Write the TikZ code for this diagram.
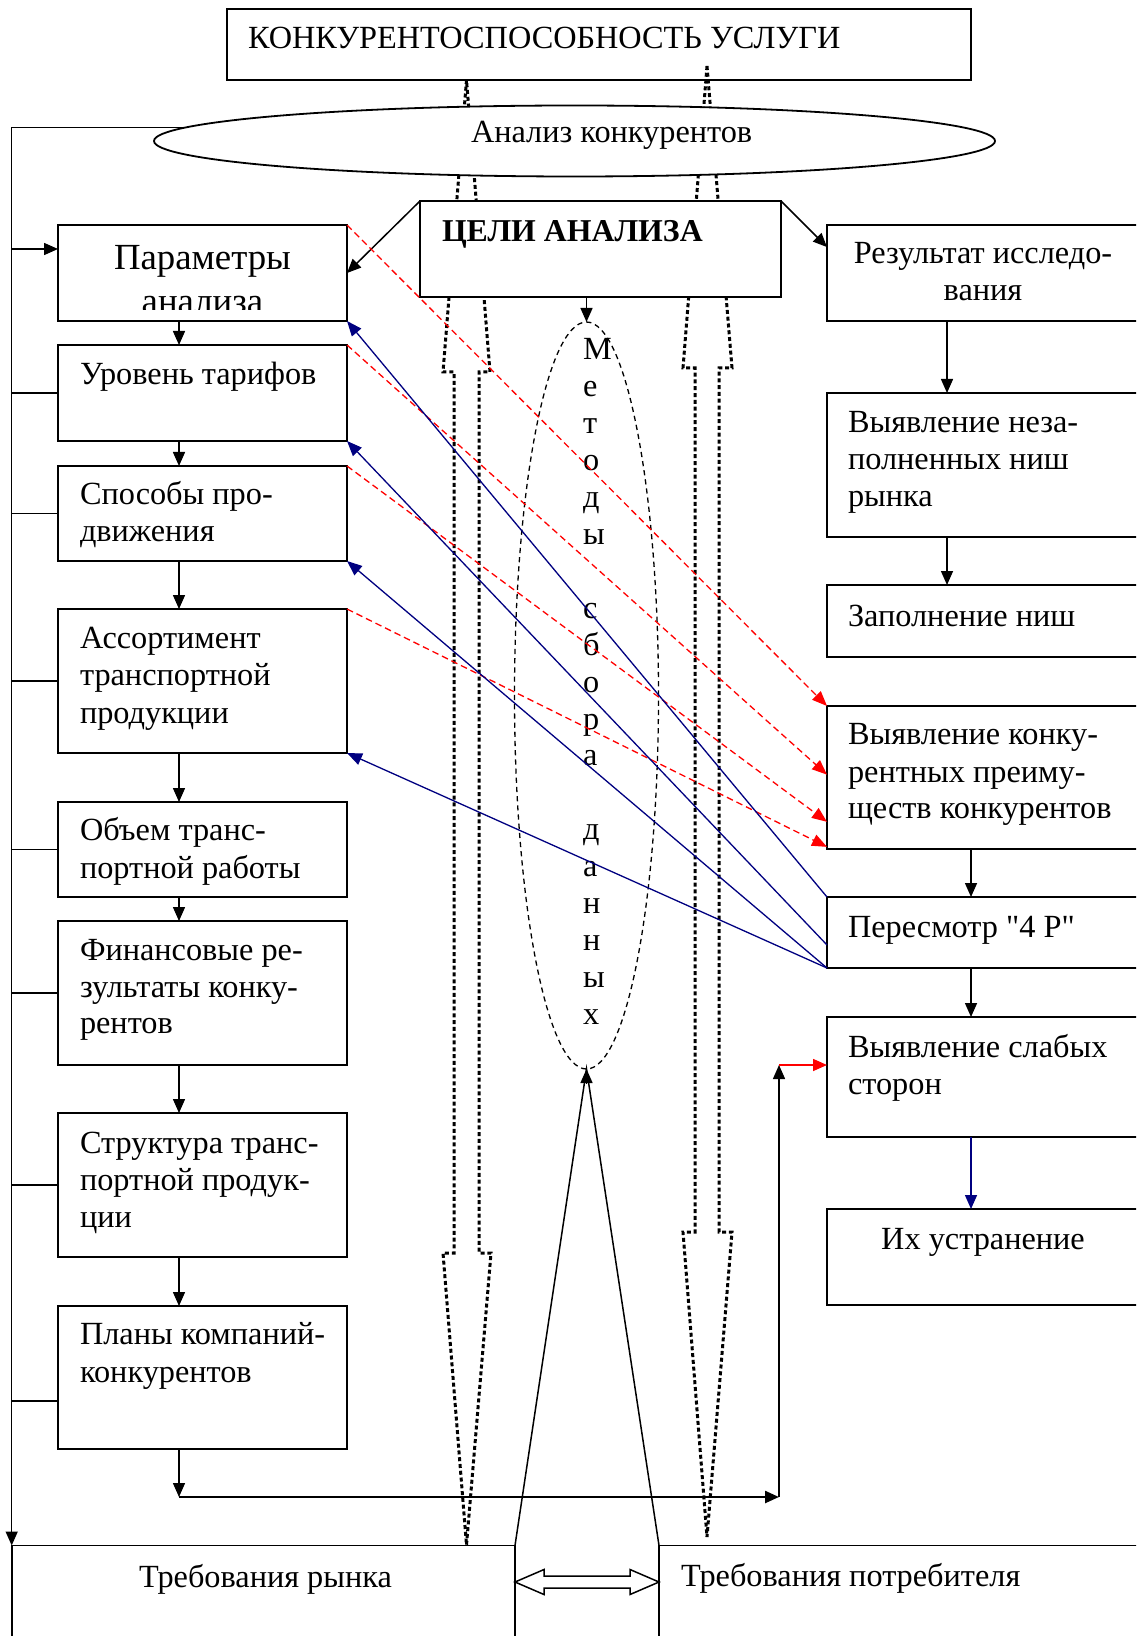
\documentclass[tikz,border=0pt]{standalone}
\usepackage{fontspec}
\setmainfont{Liberation Serif}
\newfontfamily\plainq{Liberation Serif}
\usetikzlibrary{arrows.meta,shapes.geometric,calc}
\definecolor{navyc}{RGB}{0,0,128}
\newcommand\bx[6][]{\node[box,#1,minimum width={(#5-#3)*0.5pt},minimum height={(#6-#4)*0.5pt}] (#2) at ({(#3+#5)/2},{(#4+#6)/2}) {};}
\begin{document}
\begin{tikzpicture}[x=0.5pt,y=-0.5pt,
  every node/.style={inner sep=0pt,outer sep=0pt},
  box/.style={draw,line width=0.9pt,rectangle,inner sep=0pt},
  txt/.style={font=\fontsize{16.15}{18.4}\selectfont,anchor=base west},
  ctxt/.style={font=\fontsize{16.15}{18.4}\selectfont,anchor=base},
  bigtxt/.style={font=\fontsize{18.4}{20.5}\selectfont,anchor=base},
  conn/.style={line width=0.75pt},
  arr/.style={line width=0.75pt,-{Triangle[length=7pt,width=6pt]}},
  reddash/.style={red,line width=0.65pt,dash pattern=on 3.3pt off 2pt,-{Triangle[length=7.5pt,width=6pt]}},
  bluearr/.style={navyc,line width=0.65pt,-{Triangle[length=7.5pt,width=6pt]}},
  dotarrow/.style={line width=1.5pt,dash pattern=on 2pt off 1.4pt},
  methods/.style={draw,ellipse,line width=0.65pt,dash pattern=on 2.6pt off 2pt}]
\path[use as bounding box] (0,0) rectangle (1136,1636);
\clip (0,0) rectangle (1136,1636);

% big dotted double block arrows
\draw[dotarrow] (466.5,80) -- (443,372) -- (454,372) -- (454,1253) -- (443,1253) -- (466.5,1545)
  -- (491,1253) -- (479,1253) -- (479,372) -- (490,372) -- cycle;
\draw[dotarrow] (707,66) -- (683,368) -- (695,368) -- (695,1232) -- (683,1232) -- (707,1537)
  -- (732,1232) -- (719,1232) -- (719,368) -- (732,368) -- cycle;

% top box
\bx{T}{227}{9}{971}{80}
\node[txt] (Tt) at (248,49) {КОНКУРЕНТОСПОСОБНОСТЬ УСЛУГИ};

% ellipse
\node[draw,ellipse,fill=white,line width=0.9pt,minimum width=841*0.5pt,minimum height=71*0.5pt] (E) at (574.5,141) {};
\node[txt] (Et) at (471,143) {Анализ конкурентов};

% goals box
\bx[fill=white]{C}{420}{201}{781}{297}
\node[txt,font=\fontsize{15.9}{18.4}\selectfont\bfseries] (Ct) at (442,242) {ЦЕЛИ АНАЛИЗА};

% left column
\bx{P0}{58}{225}{347}{321}
\bx{P1}{58}{345}{347}{441}
\bx{P2}{58}{466}{347}{561}
\bx{P3}{58}{609}{347}{753}
\bx{P4}{58}{802}{347}{897}
\bx{P5}{58}{921}{347}{1065}
\bx{P6}{58}{1113}{347}{1257}
\bx{P7}{58}{1306}{347}{1449}
\begin{scope}
\clip (58,225) rectangle (347,309.5);
\node[bigtxt] (P0a) at (202.5,270) {Параметры};
\node[bigtxt] (P0b) at (202.5,313.5) {анализа};
\end{scope}
\node[txt] (P1a) at (80,385) {Уровень тарифов};
\node[txt] (P2a) at (80,504) {Способы про-};
\node[txt] (P2b) at (80,541) {движения};
\node[txt] (P3a) at (80,648) {Ассортимент};
\node[txt] (P3b) at (80,685) {транспортной};
\node[txt] (P3c) at (80,723) {продукции};
\node[txt] (P4a) at (80,840) {Объем транс-};
\node[txt] (P4b) at (80,878) {портной работы};
\node[txt] (P5a) at (80,960) {Финансовые ре-};
\node[txt] (P5b) at (80,997) {зультаты конку-};
\node[txt] (P5c) at (80,1033) {рентов};
\node[txt] (P6a) at (80,1153) {Структура транс-};
\node[txt] (P6b) at (80,1190) {портной продук-};
\node[txt] (P6c) at (80,1227) {ции};
\node[txt] (P7a) at (80,1344) {Планы компаний-};
\node[txt] (P7b) at (80,1382) {конкурентов};

% right column
\bx{Res}{827}{225}{1150}{321}
\bx{VN}{827}{393}{1150}{537}
\bx{Zap}{827}{585}{1150}{657}
\bx{VK}{827}{706}{1150}{849}
\bx{PR}{827}{897}{1150}{968}
\bx{VS}{827}{1017}{1150}{1137}
\bx{IU}{827}{1209}{1150}{1305}
\node[ctxt] (Resa) at (983,264) {Результат исследо-};
\node[ctxt] (Resb) at (983,301) {вания};
\node[txt] (VNa) at (848,432) {Выявление неза-};
\node[txt] (VNb) at (848,469) {полненных ниш};
\node[txt] (VNc) at (848,506) {рынка};
\node[txt] (Zapa) at (848,626) {Заполнение ниш};
\node[txt] (VKa) at (848,744) {Выявление конку-};
\node[txt] (VKb) at (848,782) {рентных преиму-};
\node[txt] (VKc) at (848,818) {ществ конкурентов};
\node[txt] (PRa) at (848,937) {Пересмотр {\plainq"}4 P{\plainq"}};
\node[txt] (VSa) at (848,1057) {Выявление слабых};
\node[txt] (VSb) at (848,1094) {сторон};
\node[ctxt] (IUa) at (983,1249) {Их устранение};

% bottom boxes
\bx{Rynok}{11.7}{1545.5}{515}{1700}
\bx{Potreb}{659}{1545.5}{1150}{1700}
\node[txt] (Rt) at (139,1587) {Требования рынка};
\node[txt] (Pt) at (681,1586) {Требования потребителя};

% methods ellipse
\node[methods,minimum width=144*0.5pt,minimum height=747*0.5pt] (M) at (586.5,695.5) {};
\foreach \k/\ch in {0/М,1/е,2/т,3/о,4/д,5/ы,7/с,8/б,9/о,10/р,11/а,13/д,14/а,15/н,16/н,17/ы,18/х}
  \node[txt] (met\k) at (583,{360+\k*36.9}) {\ch};

% helper coordinates
\coordinate (lb) at (11.7,0);
\coordinate (colL) at (179,0);
\coordinate (cR1) at (947,0);
\coordinate (cR2) at (971,0);
\coordinate (a0) at (0,249);
\coordinate (a7) at (0,1401);
\coordinate (lpL) at (179,1497);
\coordinate (lpR) at (779,1497);
\coordinate (lpT) at (779,1065);

% left bus
\draw[arr] (E.178.3) -- (E.178.3 -| lb) -- (lb |- Rynok.north);
\draw[arr] (lb |- a0) -- (P0.west |- a0);
\foreach \p in {P1,P2,P3,P4,P5,P6} \draw[conn] (\p.west -| lb) -- (\p.west);
\draw[conn] (lb |- a7) -- (P7.west |- a7);

% left column arrows
\foreach \a/\b in {P0/P1,P1/P2,P2/P3,P3/P4,P4/P5,P5/P6,P6/P7}
  \draw[arr] (\a.south -| colL) -- (\b.north -| colL);

% goals arrows
\draw[arr] (C.north west) -- (P0.east);
\draw[arr] (C.north east) -- ($(Res.north west)!0.23!(Res.south west)$);
\draw[arr] (C.south -| M.north) -- (M.north);

% right column arrows
\draw[arr] (Res.south -| cR1) -- (VN.north -| cR1);
\draw[arr] (VN.south -| cR1) -- (Zap.north -| cR1);
\draw[arr] (VK.south -| cR2) -- (PR.north -| cR2);
\draw[arr] (PR.south -| cR2) -- (VS.north -| cR2);
\draw[arr,navyc] (VS.south -| cR2) -- (IU.north -| cR2);

% red dashed arrows
\draw[reddash] (P0.north east) -- (VK.north west);
\draw[reddash] (P1.north east) -- ($(VK.north west)!0.48!(VK.south west)$);
\draw[reddash] (P2.north east) -- ($(VK.north west)!0.81!(VK.south west)$);
\draw[reddash] (P3.north east) -- ($(VK.north west)!0.985!(VK.south west)$);

% blue arrows
\draw[bluearr] (PR.north west) -- (P0.south east);
\draw[bluearr] ($(PR.north west)!0.676!(PR.south west)$) -- (P1.south east);
\draw[bluearr] (PR.south west) -- (P2.south east);
\draw[bluearr] (PR.south west) -- (P3.south east);

% bottom loop
\draw[arr] (P7.south -| colL) -- (lpL);
\draw[arr,line width=1.2pt] (lpL) -- (lpR);
\draw[arr] (lpR) -- (lpT);
\draw[arr,red] (lpT) -- (VS.west |- lpT);

% central triangle
\draw[conn] (Rynok.north east) -- (M.south) -- (Potreb.north west);
\draw[arr] ($(M.south)+(0,14)$) -- (M.south);

% hollow double arrow
\draw[line width=0.75pt,fill=white] (515,1582) -- (544,1569.5) -- (544,1576) -- (630,1576) -- (630,1569.5)
  -- (659,1582) -- (630,1594.5) -- (630,1588) -- (544,1588) -- (544,1594.5) -- cycle;
\end{tikzpicture}
\end{document}
